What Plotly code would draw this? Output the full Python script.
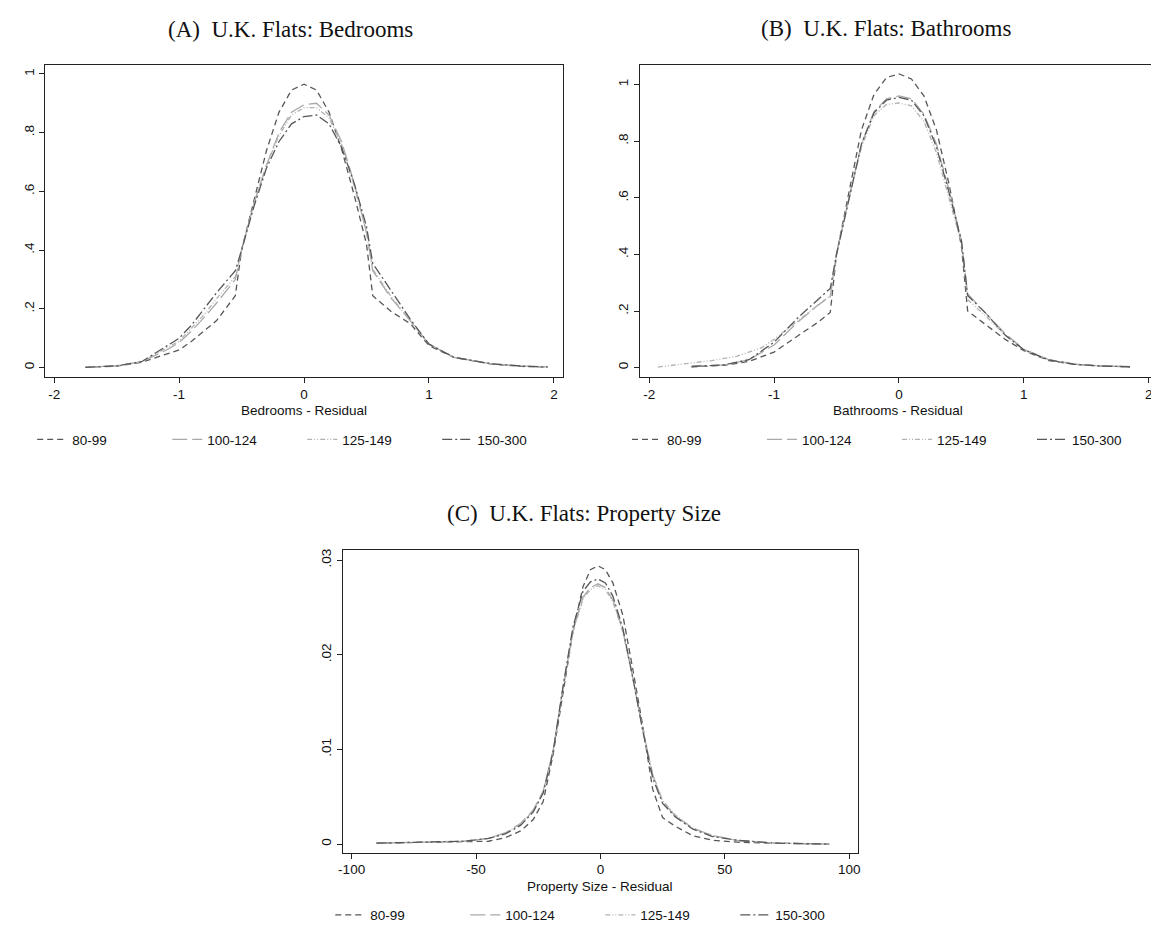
import plotly.graph_objects as go

# ---------------- data ----------------
series_names = ["80-99", "100-124", "125-149", "150-300"]

# Panel A: Bedrooms residual
xa = [-1.75, -1.5, -1.3, -1.1, -1.0, -0.9, -0.8, -0.7, -0.55, -0.5, -0.4, -0.3, -0.2, -0.1, 0.0,
      0.1, 0.2, 0.3, 0.4, 0.5, 0.55, 0.7, 0.85, 1.0, 1.2, 1.5, 1.75, 1.95]
a_80 = [0.001, 0.005, 0.018, 0.045, 0.060, 0.090, 0.125, 0.160, 0.245, 0.40, 0.57, 0.74, 0.87, 0.945, 0.965,
        0.945, 0.87, 0.745, 0.59, 0.42, 0.245, 0.19, 0.15, 0.075, 0.035, 0.012, 0.004, 0.002]
a_100 = [0.001, 0.006, 0.020, 0.060, 0.085, 0.125, 0.170, 0.220, 0.300, 0.40, 0.56, 0.69, 0.80, 0.87, 0.895,
         0.90, 0.86, 0.77, 0.63, 0.46, 0.33, 0.235, 0.16, 0.08, 0.035, 0.013, 0.005, 0.002]
a_125 = [0.001, 0.006, 0.020, 0.065, 0.090, 0.135, 0.180, 0.235, 0.310, 0.40, 0.56, 0.69, 0.79, 0.86, 0.885,
         0.885, 0.85, 0.76, 0.62, 0.46, 0.335, 0.24, 0.16, 0.08, 0.035, 0.013, 0.005, 0.002]
a_150 = [0.001, 0.006, 0.020, 0.075, 0.100, 0.145, 0.198, 0.255, 0.330, 0.40, 0.55, 0.68, 0.77, 0.83, 0.855,
         0.86, 0.83, 0.75, 0.63, 0.48, 0.355, 0.26, 0.165, 0.08, 0.035, 0.013, 0.005, 0.002]

# Panel B: Bathrooms residual
xb = [-1.66, -1.4, -1.2, -1.0, -0.8, -0.65, -0.55, -0.5, -0.4, -0.3, -0.2, -0.1, 0.0,
      0.1, 0.2, 0.3, 0.4, 0.5, 0.55, 0.7, 0.85, 1.0, 1.2, 1.4, 1.6, 1.85]
b_80 = [0.003, 0.008, 0.022, 0.055, 0.115, 0.160, 0.195, 0.40, 0.62, 0.84, 0.965, 1.025, 1.038,
        1.02, 0.96, 0.84, 0.65, 0.43, 0.20, 0.15, 0.10, 0.06, 0.025, 0.012, 0.006, 0.003]
b_100 = [0.004, 0.010, 0.028, 0.080, 0.165, 0.220, 0.250, 0.40, 0.60, 0.79, 0.905, 0.95, 0.96,
         0.95, 0.895, 0.79, 0.63, 0.45, 0.26, 0.19, 0.12, 0.065, 0.028, 0.013, 0.006, 0.003]
b_150 = [0.004, 0.010, 0.028, 0.090, 0.180, 0.240, 0.280, 0.40, 0.60, 0.79, 0.90, 0.945, 0.955,
         0.945, 0.89, 0.78, 0.62, 0.45, 0.255, 0.19, 0.115, 0.063, 0.027, 0.012, 0.006, 0.003]
xb_125 = [-1.93, -1.7, -1.5, -1.3, -1.1, -1.0, -0.8, -0.65, -0.55, -0.5, -0.4, -0.3, -0.2, -0.1, 0.0,
          0.1, 0.2, 0.3, 0.4, 0.5, 0.55, 0.7, 0.85, 1.0, 1.2, 1.4, 1.6, 1.85]
b_125 = [0.002, 0.015, 0.025, 0.040, 0.070, 0.100, 0.170, 0.220, 0.255, 0.40, 0.60, 0.78, 0.89, 0.93, 0.935,
         0.925, 0.87, 0.76, 0.60, 0.44, 0.24, 0.18, 0.115, 0.063, 0.027, 0.012, 0.006, 0.003]

# Panel C: Property size residual
xc = [-90, -70, -55, -45, -38, -32, -27, -23, -19, -15, -11, -7, -4, -1, 2, 5, 9, 13, 17, 21, 25,
      30, 37, 45, 55, 70, 92]
c_80 = [0.0001, 0.0002, 0.0002, 0.0003, 0.0007, 0.0014, 0.0026, 0.0045, 0.0095, 0.0158, 0.0225, 0.0272,
        0.0290, 0.0294, 0.0290, 0.0276, 0.0242, 0.0185, 0.0125, 0.0058, 0.0028, 0.0019, 0.0009, 0.0004,
        0.0002, 0.0001, 0.0000]
c_100 = [0.0001, 0.0002, 0.0003, 0.0006, 0.0012, 0.0022, 0.0036, 0.0056, 0.0099, 0.0166, 0.0226, 0.0261,
         0.0271, 0.0275, 0.0271, 0.0258, 0.0226, 0.0176, 0.0121, 0.0073, 0.0045, 0.0030, 0.0017, 0.0009,
         0.0004, 0.0001, 0.0000]
c_125 = [0.0001, 0.0002, 0.0003, 0.0006, 0.0012, 0.0021, 0.0035, 0.0055, 0.0098, 0.0165, 0.0224, 0.0259,
         0.0269, 0.0273, 0.0269, 0.0256, 0.0224, 0.0176, 0.0122, 0.0074, 0.0046, 0.0031, 0.0017, 0.0009,
         0.0004, 0.0001, 0.0000]
c_150 = [0.0001, 0.0002, 0.0003, 0.0006, 0.0011, 0.0020, 0.0034, 0.0054, 0.0098, 0.0167, 0.0230, 0.0267,
         0.0277, 0.0280, 0.0276, 0.0262, 0.0228, 0.0176, 0.0120, 0.0070, 0.0043, 0.0029, 0.0016, 0.0008,
         0.0004, 0.0001, 0.0000]

panel_titles = ["(A)\u00a0\u00a0U.K. Flats: Bedrooms", "(B)\u00a0\u00a0U.K. Flats: Bathrooms",
                "(C)\u00a0\u00a0U.K. Flats: Property Size"]
x_titles = ["Bedrooms - Residual", "Bathrooms - Residual", "Property Size - Residual"]

ab_xticks = [-2, -1, 0, 1, 2]
ab_xtext = ["-2", "-1", "0", "1", "2"]
ab_yticks = [0, 0.2, 0.4, 0.6, 0.8, 1.0]
ab_ytext = ["0", ".2", ".4", ".6", ".8", "1"]
c_xticks = [-100, -50, 0, 50, 100]
c_xtext = ["-100", "-50", "0", "50", "100"]
c_yticks = [0, 0.01, 0.02, 0.03]
c_ytext = ["0", ".01", ".02", ".03"]

# ---------------- styling ----------------
W, H = 1159, 927
DARK = "#575757"
LIGHT = "#a9a9a9"
styles = [
    dict(color=DARK, dash="6px,4px", width=1.3),
    dict(color=LIGHT, dash="15px,5px", width=1.3),
    dict(color="#b2b2b2", dash="5px,2px,1px,2px,1px,2px", width=1.3),
    dict(color=DARK, dash="10px,3px,2px,3px", width=1.3),
]
SANS = "Liberation Sans, Arial, sans-serif"
SERIF = "Liberation Serif, Times New Roman, serif"


def px_x(p):
    return p / W


def px_y(p):
    return 1 - p / H


fig = go.Figure()

panels = [
    ("x", "y", "legend", [(xa, a_80), (xa, a_100), (xa, a_125), (xa, a_150)]),
    ("x2", "y2", "legend2", [(xb, b_80), (xb, b_100), (xb_125, b_125), (xb, b_150)]),
    ("x3", "y3", "legend3", [(xc, c_80), (xc, c_100), (xc, c_125), (xc, c_150)]),
]
for xax, yax, leg, data in panels:
    for name, (xs, ys), st in zip(series_names, data, styles):
        fig.add_trace(go.Scatter(x=xs, y=ys, mode="lines", name=name, line=st,
                                 xaxis=xax, yaxis=yax, legend=leg, hoverinfo="skip"))

axis_common = dict(showgrid=False, zeroline=False, showline=True, linecolor="#222", linewidth=1,
                   ticks="outside", ticklen=5, tickwidth=1, tickcolor="#222",
                   tickfont=dict(family=SANS, size=13.5, color="#111"))

# panel pixel boxes: left, right, top, bottom
boxA = (32.7, 557.0, 56.0, 368.7)
boxB = (635.0, 1159.0, 56.0, 368.7)
boxC = (334.0, 856.0, 541.7, 845.0)

fig.update_layout(
    xaxis=dict(domain=[px_x(boxA[0]), px_x(boxA[1])], range=[-2.071, 2.071], anchor="y",
               tickvals=ab_xticks, ticktext=ab_xtext, mirror=True, ticklabelstandoff=-1, **axis_common),
    yaxis=dict(domain=[px_y(boxA[3]), px_y(boxA[2])], range=[-0.033, 1.0306], anchor="x",
               tickvals=ab_yticks, ticktext=ab_ytext, tickangle=-90, mirror=True, **axis_common),
    xaxis2=dict(domain=[px_x(boxB[0]), px_x(boxB[1])], range=[-2.075, 2.066], anchor="y2",
                tickvals=ab_xticks, ticktext=ab_xtext, mirror=True, ticklabelstandoff=-1, **axis_common),
    yaxis2=dict(domain=[px_y(boxB[3]), px_y(boxB[2])], range=[-0.0342, 1.0695], anchor="x2",
                tickvals=ab_yticks, ticktext=ab_ytext, tickangle=-90, mirror=False, **axis_common),
    xaxis3=dict(domain=[px_x(boxC[0]), px_x(boxC[1])], range=[-103.6, 103.5], anchor="y3",
                tickvals=c_xticks, ticktext=c_xtext, mirror=True, ticklabelstandoff=-1, **axis_common),
    yaxis3=dict(domain=[px_y(boxC[3]), px_y(boxC[2])], range=[-0.00095, 0.03106], anchor="x3",
                tickvals=c_yticks, ticktext=c_ytext, tickangle=-90, mirror=True, **axis_common),
    width=W, height=H,
    margin=dict(l=0, r=0, t=0, b=0),
    paper_bgcolor="white", plot_bgcolor="white",
    showlegend=True,
)

legend_common = dict(orientation="h", xanchor="center", yanchor="middle", bgcolor="rgba(0,0,0,0)",
                     font=dict(family=SANS, size=13.5, color="#111"), entrywidth=90,
                     entrywidthmode="pixels", itemclick=False, itemdoubleclick=False, tracegroupgap=0)
fig.update_layout(
    legend=dict(x=px_x(293), y=px_y(431), **legend_common),
    legend2=dict(x=px_x(896), y=px_y(431), **legend_common),
    legend3=dict(x=px_x(595), y=px_y(907), **legend_common),
)

annotations = []
for title, cx, cy in zip(panel_titles, [281, 884, 578], [21, 20, 505]):
    annotations.append(dict(text=title, x=px_x(cx), y=px_y(cy), xref="paper", yref="paper",
                            xanchor="center", yanchor="middle", showarrow=False,
                            font=dict(family=SERIF, size=23, color="#111")))
for title, cx, cy in zip(x_titles, [295, 897, 595], [402, 402, 878]):
    annotations.append(dict(text=title, x=px_x(cx), y=px_y(cy), xref="paper", yref="paper",
                            xanchor="center", yanchor="middle", showarrow=False,
                            font=dict(family=SANS, size=13.5, color="#111")))
fig.update_layout(annotations=annotations)

fig.write_html("out.html")
